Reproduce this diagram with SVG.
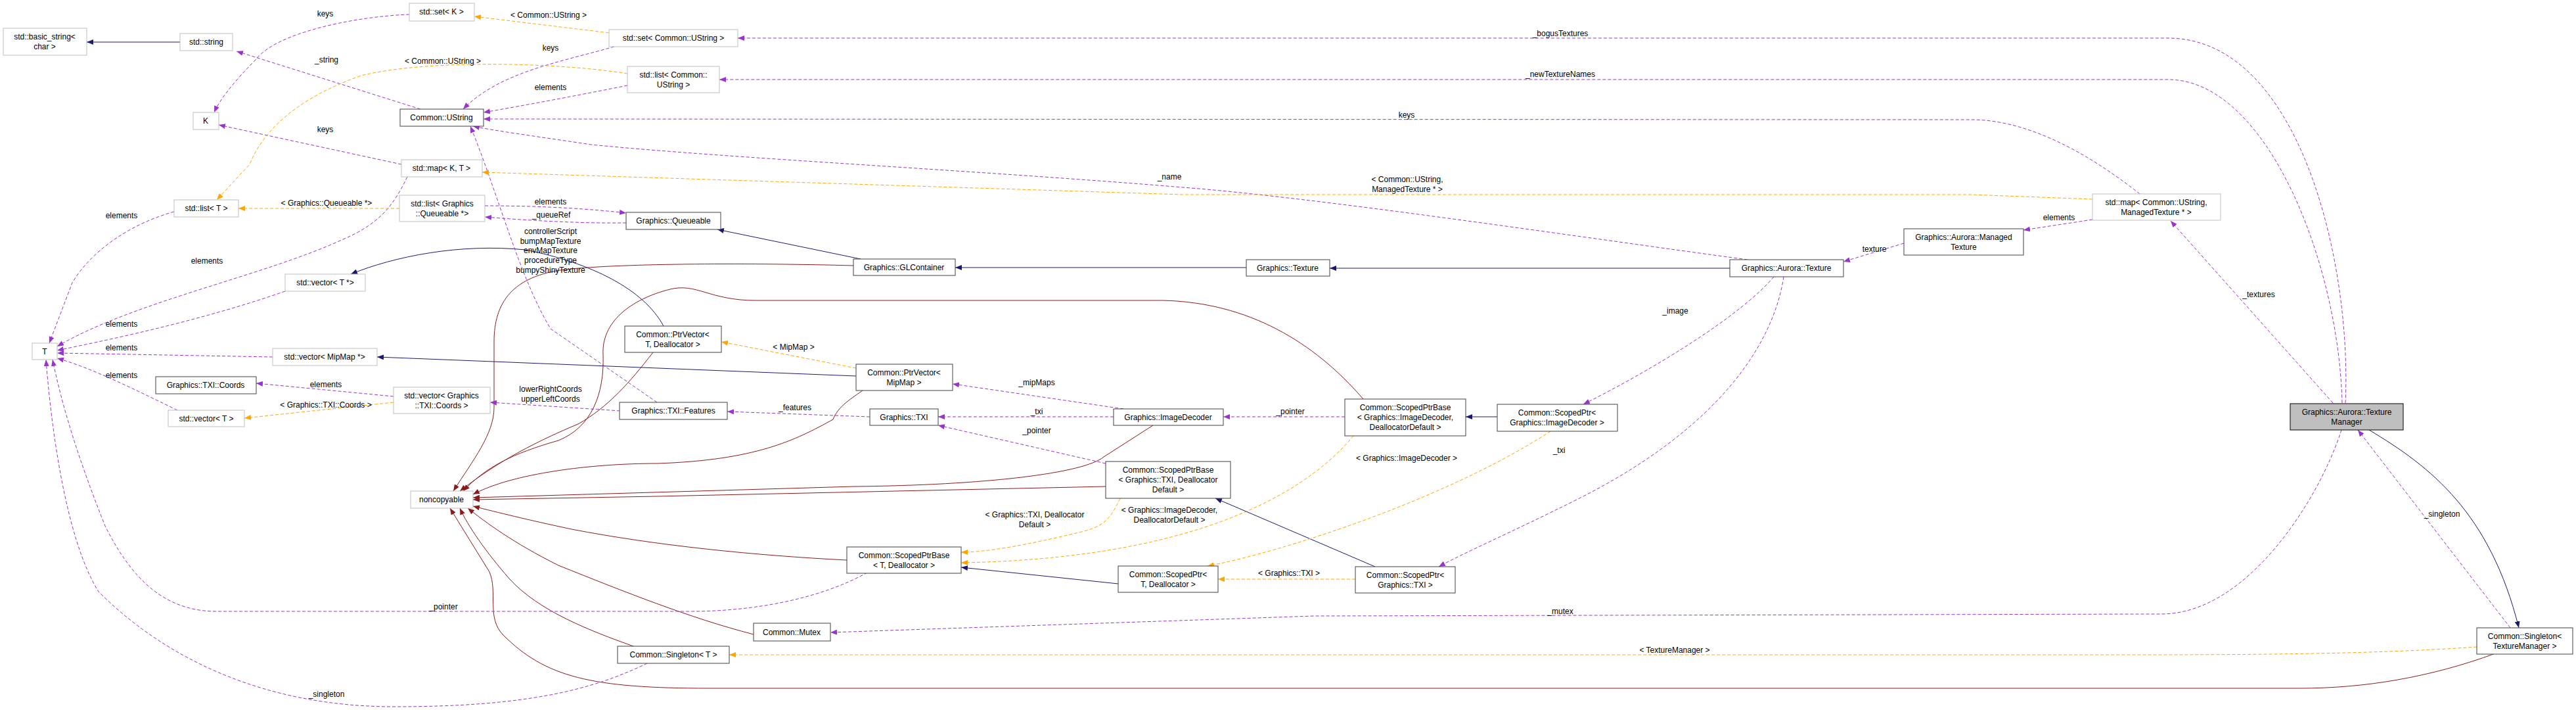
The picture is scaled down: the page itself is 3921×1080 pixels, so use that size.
<svg xmlns="http://www.w3.org/2000/svg" width="3921" height="1080" viewBox="0 0 3921 1080">
<style>
text{font-family:"Liberation Sans",Arial,sans-serif;font-size:12px;fill:#000;text-anchor:middle}
.n rect{fill:#fff;stroke:#404040;stroke-width:1}
.g rect{fill:#fff;stroke:#bfbfbf;stroke-width:1}
.sel rect{fill:#bfbfbf;stroke:#000}
.e path{fill:none}
.pu{stroke:#9a32cd;stroke-dasharray:5,3}
.or{stroke:#ffa500;stroke-dasharray:5,3}
.bl{stroke:#191970}
.rd{stroke:#8b1a1a}
</style>
<defs>
<marker id="mp" markerUnits="userSpaceOnUse" markerWidth="11" markerHeight="8" refX="10" refY="4" orient="auto"><path d="M0,0 L10,4 L0,8 z" fill="#9a32cd"/></marker>
<marker id="mo" markerUnits="userSpaceOnUse" markerWidth="11" markerHeight="8" refX="10" refY="4" orient="auto"><path d="M0,0 L10,4 L0,8 z" fill="#ffa500"/></marker>
<marker id="mb" markerUnits="userSpaceOnUse" markerWidth="11" markerHeight="8" refX="10" refY="4" orient="auto"><path d="M0,0 L10,4 L0,8 z" fill="#191970"/></marker>
<marker id="mr" markerUnits="userSpaceOnUse" markerWidth="11" markerHeight="8" refX="10" refY="4" orient="auto"><path d="M0,0 L10,4 L0,8 z" fill="#8b1a1a"/></marker>
</defs>
<rect width="3921" height="1080" fill="#fff"/>
<g id="edges" class="e">
<g class="bl" marker-end="url(#mb)">
<path d="M274,64 L132,64"/>
<path d="M1897,407 L1454,407"/>
<path d="M2633,408 L2024,408"/>
<path d="M1310,394 L1092,349"/>
<path d="M1010,496 C980,440 900,400 800,380 C700,370 600,390 534,417"/>
<path d="M1303,572 L574,543"/>
<path d="M2279,634 L2231,634"/>
<path d="M2093,862 L1850,758"/>
<path d="M1702,888 L1463,863"/>
<path d="M3606,654 C3700,710 3790,780 3834,955"/>
</g>
<g class="rd" marker-end="url(#mr)">
<path d="M1299,404 C1150,400 950,400 860,410 C780,420 752,460 752,520 L752,620 C752,660 720,700 690,747"/>
<path d="M994,536 C960,580 925,620 880,645 C820,670 760,700 700,747"/>
<path d="M2075,607 C2000,520 1900,460 1770,457 L1150,457 C1080,457 1060,430 1020,440 C960,455 915,490 918,540 C920,600 900,650 850,670 C780,690 740,710 705,747"/>
<path d="M1313,594 C1290,610 1275,620 1268,638 C1210,670 1150,700 1000,705 C900,705 780,720 720,752"/>
<path d="M1755,647 L1680,695 C1650,720 1500,738 1300,740 L720,757"/>
<path d="M1683,740 L1000,755 L720,760"/>
<path d="M1289,852 C1150,845 1000,830 870,805 C800,790 760,780 720,770"/>
<path d="M1147,965 C1050,940 950,900 850,860 C780,825 740,795 712,773"/>
<path d="M964,983 C900,960 820,930 775,880 C740,840 712,800 700,773"/>
<path d="M3798,994 C3700,1030 3600,1047 3500,1047 L1080,1047 C900,1047 830,1030 766,966 C740,940 758,900 745,870 L685,773"/>
</g>
<g class="pu" marker-end="url(#mp)">
<path d="M640,166 L360,78"/>
<path d="M623,22 C540,25 420,50 390,90 C360,120 335,150 326,171"/>
<path d="M935,71 C850,95 760,110 705,166"/>
<path d="M955,130 C880,145 800,160 736,171"/>
<path d="M3257,295 C3200,250 3100,182 3000,182 L736,181"/>
<path d="M2660,395 C2400,360 2000,300 1800,285 C1500,260 1100,240 900,220 C800,205 760,200 720,192"/>
<path d="M1000,612 L838,500 C790,420 760,300 716,192"/>
<path d="M611,250 L333,190"/>
<path d="M265,322 C200,340 140,380 110,430 L75,522"/>
<path d="M620,269 C600,310 580,340 520,365 C400,420 200,460 87,527"/>
<path d="M434,443 C300,490 150,520 87,533"/>
<path d="M415,543 L87,537"/>
<path d="M270,624 C200,590 140,560 87,545"/>
<path d="M738,313 C830,313 900,318 953,324"/>
<path d="M953,339 C880,340 800,335 738,330"/>
<path d="M599,603 L390,583"/>
<path d="M944,625 L746,612"/>
<path d="M1324,634 L1107,626"/>
<path d="M1710,622 L1450,584"/>
<path d="M1695,634 L1428,634"/>
<path d="M2047,634 L1862,634"/>
<path d="M1683,705 L1428,647"/>
<path d="M2898,370 L2806,398"/>
<path d="M3185,334 L3080,350"/>
<path d="M3551,613 L3304,336"/>
<path d="M3570,613 C3580,400 3500,58 3300,58 L1123,58"/>
<path d="M3565,613 C3560,400 3450,121 3300,121 L1095,121"/>
<path d="M2700,421 C2650,480 2520,560 2410,615"/>
<path d="M2715,421 C2700,520 2620,650 2400,760 C2300,810 2230,840 2190,862"/>
<path d="M1320,871 C1250,910 1150,930 1050,930 L330,930 C250,930 200,880 160,800 C120,700 95,620 80,547"/>
<path d="M3564,654 C3530,760 3420,934 3290,934 L2000,937 L1264,962"/>
<path d="M985,1009 C900,1050 800,1075 600,1075 C400,1075 250,1000 150,900 C100,820 78,650 70,547"/>
<path d="M3821,955 L3589,654"/>
</g>
<g class="or" marker-end="url(#mo)">
<path d="M927,50 L722,25"/>
<path d="M955,112 C850,95 650,90 550,115 C450,150 400,200 380,250 L330,304"/>
<path d="M3185,303 L3000,296 L1800,296 L734,262"/>
<path d="M608,317 L363,317"/>
<path d="M1303,560 L1098,520"/>
<path d="M599,612 L372,636"/>
<path d="M1705,758 C1690,790 1680,800 1650,808 C1560,830 1500,840 1463,840"/>
<path d="M2060,663 C1980,760 1800,850 1463,856"/>
<path d="M2360,656 C2200,760 1950,840 1838,861"/>
<path d="M2063,881 L1854,881"/>
<path d="M3770,984 C3600,996 3400,996 3200,996 L1110,996"/>
</g>
<g id="labels">
<text x="495" y="25">keys</text>
<text x="497" y="95">_string</text>
<text x="835" y="27">&lt; Common::UString &gt;</text>
<text x="838" y="77">keys</text>
<text x="674" y="97">&lt; Common::UString &gt;</text>
<text x="838" y="137">elements</text>
<text x="495" y="201">keys</text>
<text x="497" y="313">&lt; Graphics::Queueable *&gt;</text>
<text x="838" y="311">elements</text>
<text x="839" y="331">_queueRef</text>
<text x="838" y="356">controllerScript</text>
<text x="838" y="371">bumpMapTexture</text>
<text x="838" y="385">envMapTexture</text>
<text x="838" y="400">procedureType</text>
<text x="838" y="415">bumpyShinyTexture</text>
<text x="185" y="332">elements</text>
<text x="315" y="401">elements</text>
<text x="185" y="497">elements</text>
<text x="185" y="533">elements</text>
<text x="185" y="575">elements</text>
<text x="496" y="589">elements</text>
<text x="496" y="620">&lt; Graphics::TXI::Coords &gt;</text>
<text x="838" y="596">lowerRightCoords</text>
<text x="838" y="611">upperLeftCoords</text>
<text x="675" y="927">_pointer</text>
<text x="497" y="1060">_singleton</text>
<text x="2375" y="55">_bogusTextures</text>
<text x="2375" y="117">_newTextureNames</text>
<text x="2141" y="179">keys</text>
<text x="2142" y="277">&lt; Common::UString,</text>
<text x="2142" y="292">ManagedTexture * &gt;</text>
<text x="2853" y="383">texture</text>
<text x="2550" y="477">_image</text>
<text x="1780" y="273">_name</text>
<text x="1208" y="532">&lt; MipMap &gt;</text>
<text x="1578" y="586">_mipMaps</text>
<text x="1210" y="624">_features</text>
<text x="1578" y="630">_txi</text>
<text x="1964" y="630">_pointer</text>
<text x="1578" y="659">_pointer</text>
<text x="1575" y="787">&lt; Graphics::TXI, Deallocator</text>
<text x="1575" y="802">Default &gt;</text>
<text x="1780" y="780">&lt; Graphics::ImageDecoder,</text>
<text x="1780" y="795">DeallocatorDefault &gt;</text>
<text x="1962" y="876">&lt; Graphics::TXI &gt;</text>
<text x="2141" y="701">&lt; Graphics::ImageDecoder &gt;</text>
<text x="2373" y="689">_txi</text>
<text x="2375" y="934">_mutex</text>
<text x="2549" y="993">&lt; TextureManager &gt;</text>
<text x="3134" y="335">elements</text>
<text x="3438" y="452">_textures</text>
<text x="3717" y="786">_singleton</text>
</g>
</g>
<g id="n1" class="g"><rect x="5" y="43" width="127" height="41"/><text x="68" y="60">std::basic_string&lt;</text><text x="68" y="75">char &gt;</text></g>
<g id="n2" class="g"><rect x="274" y="51" width="80" height="26"/><text x="314" y="68">std::string</text></g>
<g id="n3" class="g"><rect x="623" y="5" width="99" height="27"/><text x="672" y="22">std::set&lt; K &gt;</text></g>
<g id="n4" class="g"><rect x="294" y="171" width="39" height="26"/><text x="313" y="188">K</text></g>
<g id="n5" class="n"><rect x="609" y="166" width="127" height="26"/><text x="672" y="183">Common::UString</text></g>
<g id="n6" class="g"><rect x="927" y="45" width="196" height="26"/><text x="1025" y="62">std::set&lt; Common::UString &gt;</text></g>
<g id="n7" class="g"><rect x="955" y="101" width="140" height="40"/><text x="1025" y="118">std::list&lt; Common::</text><text x="1025" y="133">UString &gt;</text></g>
<g id="n8" class="g"><rect x="611" y="243" width="123" height="26"/><text x="672" y="260">std::map&lt; K, T &gt;</text></g>
<g id="n9" class="g"><rect x="265" y="304" width="98" height="26"/><text x="314" y="321">std::list&lt; T &gt;</text></g>
<g id="n10" class="g"><rect x="608" y="297" width="130" height="40"/><text x="673" y="314">std::list&lt; Graphics</text><text x="673" y="329">::Queueable *&gt;</text></g>
<g id="n11" class="n"><rect x="953" y="323" width="144" height="26"/><text x="1025" y="340">Graphics::Queueable</text></g>
<g id="n12" class="g"><rect x="434" y="417" width="122" height="26"/><text x="495" y="434">std::vector&lt; T *&gt;</text></g>
<g id="n13" class="n"><rect x="1299" y="394" width="155" height="25"/><text x="1376" y="411">Graphics::GLContainer</text></g>
<g id="n14" class="n"><rect x="1897" y="395" width="127" height="25"/><text x="1960" y="412">Graphics::Texture</text></g>
<g id="n15" class="n"><rect x="2633" y="395" width="173" height="26"/><text x="2719" y="412">Graphics::Aurora::Texture</text></g>
<g id="n16" class="n"><rect x="2898" y="348" width="182" height="40"/><text x="2989" y="365">Graphics::Aurora::Managed</text><text x="2989" y="380">Texture</text></g>
<g id="n17" class="g"><rect x="3185" y="295" width="195" height="40"/><text x="3282" y="312">std::map&lt; Common::UString,</text><text x="3282" y="327">ManagedTexture * &gt;</text></g>
<g id="n18" class="sel"><rect x="3486" y="614" width="172" height="40"/><text x="3572" y="631">Graphics::Aurora::Texture</text><text x="3572" y="646">Manager</text></g>
<g id="n19" class="n"><rect x="3770" y="955" width="146" height="40"/><text x="3843" y="972">Common::Singleton&lt;</text><text x="3843" y="987">TextureManager &gt;</text></g>
<g id="n20" class="g"><rect x="49" y="522" width="38" height="25"/><text x="68" y="539">T</text></g>
<g id="n21" class="g"><rect x="415" y="530" width="159" height="26"/><text x="494" y="547">std::vector&lt; MipMap *&gt;</text></g>
<g id="n22" class="n"><rect x="237" y="573" width="153" height="26"/><text x="313" y="590">Graphics::TXI::Coords</text></g>
<g id="n23" class="g"><rect x="599" y="589" width="147" height="40"/><text x="672" y="606">std::vector&lt; Graphics</text><text x="672" y="621">::TXI::Coords &gt;</text></g>
<g id="n24" class="g"><rect x="256" y="624" width="116" height="25"/><text x="314" y="641">std::vector&lt; T &gt;</text></g>
<g id="n25" class="g"><rect x="625" y="747" width="95" height="26"/><text x="672" y="764">noncopyable</text></g>
<g id="n26" class="n"><rect x="951" y="496" width="147" height="40"/><text x="1024" y="513">Common::PtrVector&lt;</text><text x="1024" y="528">T, Deallocator &gt;</text></g>
<g id="n27" class="n"><rect x="1303" y="554" width="147" height="40"/><text x="1376" y="571">Common::PtrVector&lt;</text><text x="1376" y="586">MipMap &gt;</text></g>
<g id="n28" class="n"><rect x="943" y="612" width="164" height="26"/><text x="1025" y="629">Graphics::TXI::Features</text></g>
<g id="n29" class="n"><rect x="1324" y="622" width="104" height="25"/><text x="1376" y="639">Graphics::TXI</text></g>
<g id="n30" class="n"><rect x="1695" y="622" width="167" height="25"/><text x="1778" y="639">Graphics::ImageDecoder</text></g>
<g id="n31" class="n"><rect x="2047" y="607" width="184" height="56"/><text x="2139" y="624">Common::ScopedPtrBase</text><text x="2139" y="639">&lt; Graphics::ImageDecoder,</text><text x="2139" y="654">DeallocatorDefault &gt;</text></g>
<g id="n32" class="n"><rect x="2279" y="615" width="183" height="41"/><text x="2370" y="632">Common::ScopedPtr&lt;</text><text x="2370" y="647">Graphics::ImageDecoder &gt;</text></g>
<g id="n33" class="n"><rect x="1683" y="702" width="190" height="56"/><text x="1778" y="719">Common::ScopedPtrBase</text><text x="1778" y="734">&lt; Graphics::TXI, Deallocator</text><text x="1778" y="749">Default &gt;</text></g>
<g id="n34" class="n"><rect x="1289" y="832" width="174" height="40"/><text x="1376" y="849">Common::ScopedPtrBase</text><text x="1376" y="864">&lt; T, Deallocator &gt;</text></g>
<g id="n35" class="n"><rect x="1702" y="861" width="152" height="40"/><text x="1778" y="878">Common::ScopedPtr&lt;</text><text x="1778" y="893">T, Deallocator &gt;</text></g>
<g id="n36" class="n"><rect x="2063" y="862" width="152" height="40"/><text x="2139" y="879">Common::ScopedPtr&lt;</text><text x="2139" y="894">Graphics::TXI &gt;</text></g>
<g id="n37" class="n"><rect x="1147" y="948" width="117" height="27"/><text x="1205" y="966">Common::Mutex</text></g>
<g id="n38" class="n"><rect x="940" y="983" width="170" height="26"/><text x="1025" y="1000">Common::Singleton&lt; T &gt;</text></g>
</svg>
